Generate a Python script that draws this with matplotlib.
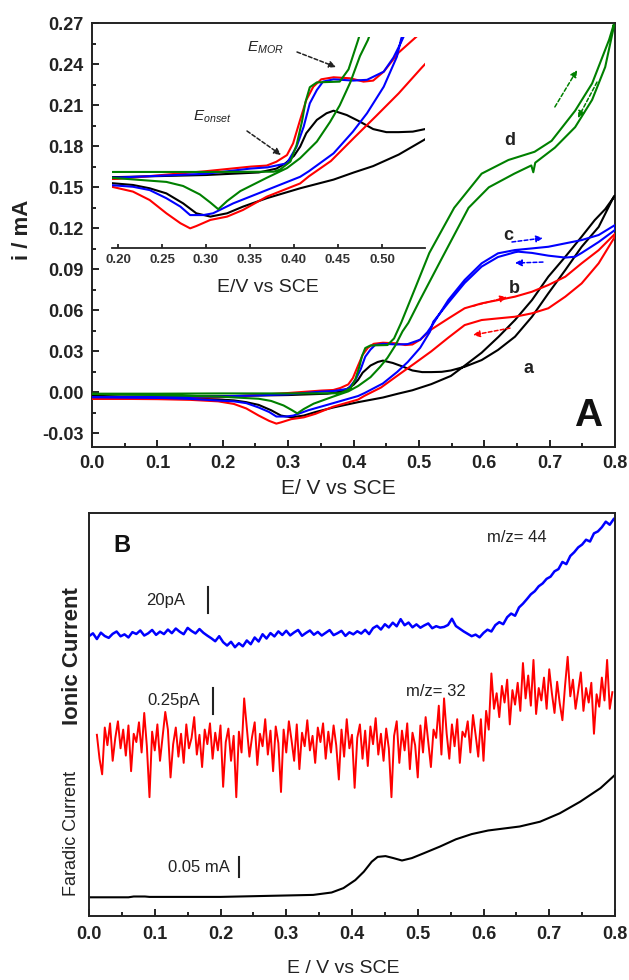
import numpy as np
import matplotlib
matplotlib.use("Agg")
import matplotlib.pyplot as plt
from matplotlib import font_manager

plt.rcParams["font.family"] = ["Liberation Sans", "DejaVu Sans"]
plt.rcParams["mathtext.fontset"] = "custom"
plt.rcParams["mathtext.rm"] = "Liberation Sans"
plt.rcParams["mathtext.it"] = "Liberation Sans:italic"
plt.rcParams["mathtext.bf"] = "Liberation Sans:bold"

_names = {f.name for f in font_manager.fontManager.ttflist}
NARROW = "Liberation Sans Narrow" if "Liberation Sans Narrow" in _names else "Liberation Sans"

# ---------------- Panel A: cyclic voltammograms (E / V vs SCE, i / mA) ----------------
# a: black
a_fwd_E = [0.00, 0.10, 0.20, 0.30, 0.36, 0.38, 0.39, 0.40, 0.407, 0.414, 0.426, 0.437, 0.445,
           0.460, 0.475, 0.490, 0.505, 0.519, 0.535, 0.549, 0.570, 0.596, 0.621, 0.647, 0.673,
           0.698, 0.724, 0.749, 0.775, 0.798]
a_fwd_i = [-0.0030, -0.0030, -0.0028, -0.0020, -0.0010, 0.0005, 0.0025, 0.0055, 0.0091, 0.0144,
           0.0196, 0.0222, 0.0232, 0.0215, 0.0189, 0.0160, 0.0148, 0.0148, 0.0150, 0.0160, 0.0187,
           0.0236, 0.0310, 0.0407, 0.0553, 0.0724, 0.0895, 0.1065, 0.1210, 0.1430]
a_rev_E = [0.800, 0.785, 0.769, 0.749, 0.724, 0.698, 0.673, 0.647, 0.622, 0.596, 0.570, 0.549,
           0.519, 0.490, 0.468, 0.445, 0.407, 0.369, 0.342, 0.324, 0.305, 0.289, 0.274, 0.255,
           0.236, 0.217, 0.193, 0.15, 0.10, 0.05, 0.00]
a_rev_i = [0.1440, 0.1340, 0.1260, 0.1139, 0.0992, 0.0846, 0.0675, 0.0529, 0.0407, 0.0290,
           0.0195, 0.0120, 0.0060, 0.0015, -0.0010, -0.0038, -0.0072, -0.0111, -0.0144, -0.0170,
           -0.0183, -0.0170, -0.0131, -0.0092, -0.0072, -0.0059, -0.0052, -0.0045, -0.0040,
           -0.0035, -0.0030]

# b: red
b_fwd_E = [0.00, 0.10, 0.20, 0.25, 0.30, 0.351, 0.369, 0.380, 0.392, 0.399, 0.407, 0.414, 0.422,
           0.431, 0.445, 0.464, 0.479, 0.490, 0.502, 0.519, 0.545, 0.570, 0.596, 0.621, 0.647,
           0.673, 0.698, 0.724, 0.749, 0.775, 0.800]
b_fwd_i = [-0.0045, -0.0045, -0.0035, -0.0020, -0.0005, 0.0013, 0.0017, 0.0032, 0.0058, 0.0104,
           0.0196, 0.0274, 0.0326, 0.0355, 0.0363, 0.0359, 0.0346, 0.0350, 0.0385, 0.0460, 0.0540,
           0.0615, 0.0651, 0.0675, 0.0700, 0.0736, 0.0785, 0.0846, 0.0944, 0.1040, 0.1160]
b_rev_E = [0.800, 0.775, 0.749, 0.724, 0.698, 0.673, 0.647, 0.621, 0.596, 0.570, 0.545, 0.519,
           0.493, 0.468, 0.442, 0.417, 0.407, 0.369, 0.342, 0.324, 0.305, 0.289, 0.282, 0.271,
           0.255, 0.236, 0.217, 0.193, 0.15, 0.10, 0.05, 0.00]
b_rev_i = [0.1140, 0.0944, 0.0797, 0.0700, 0.0615, 0.0578, 0.0553, 0.0541, 0.0529, 0.0492,
           0.0400, 0.0300, 0.0210, 0.0125, 0.0035, -0.0025, -0.0053, -0.0105, -0.0157, -0.0183,
           -0.0196, -0.0220, -0.0229, -0.0209, -0.0170, -0.0118, -0.0085, -0.0066, -0.0055,
           -0.0050, -0.0048, -0.0045]

# c: blue
c_fwd_E = [0.00, 0.10, 0.20, 0.30, 0.35, 0.37, 0.392, 0.403, 0.411, 0.418, 0.426, 0.433, 0.445,
           0.467, 0.483, 0.502, 0.513, 0.521, 0.545, 0.570, 0.596, 0.621, 0.647, 0.673, 0.698,
           0.724, 0.749, 0.775, 0.800]
c_fwd_i = [-0.0035, -0.0035, -0.0030, -0.0015, 0.0005, 0.0010, 0.0026, 0.0091, 0.0169, 0.0261,
           0.0313, 0.0346, 0.0355, 0.0350, 0.0353, 0.0385, 0.0440, 0.0495, 0.0675, 0.0822, 0.0944,
           0.1017, 0.1041, 0.1053, 0.1065, 0.1090, 0.1114, 0.1151, 0.1224]
c_rev_E = [0.800, 0.775, 0.749, 0.739, 0.724, 0.698, 0.673, 0.652, 0.647, 0.621, 0.596, 0.570,
           0.545, 0.522, 0.517, 0.502, 0.483, 0.467, 0.445, 0.417, 0.407, 0.369, 0.331, 0.308,
           0.297, 0.282, 0.271, 0.255, 0.236, 0.217, 0.193, 0.15, 0.10, 0.05, 0.00]
c_rev_i = [0.1188, 0.1100, 0.1020, 0.0992, 0.0986, 0.1000, 0.1020, 0.1029, 0.1025, 0.0990,
           0.0920, 0.0800, 0.0655, 0.0516, 0.0444, 0.0326, 0.0222, 0.0150, 0.0065, -0.0005,
           -0.0027, -0.0079, -0.0131, -0.0170, -0.0177, -0.0177, -0.0144, -0.0111, -0.0079,
           -0.0066, -0.0060, -0.0048, -0.0040, -0.0038, -0.0035]

# d: green
d_fwd_E = [0.00, 0.10, 0.20, 0.30, 0.377, 0.384, 0.396, 0.403, 0.409, 0.413, 0.418, 0.426,
           0.452, 0.462, 0.473, 0.495, 0.516, 0.554, 0.596, 0.637, 0.677, 0.703, 0.739, 0.765,
           0.791, 0.798]
d_fwd_i = [-0.0010, -0.0010, -0.0008, -0.0008, -0.0007, 0.0001, 0.0033, 0.0098, 0.0188, 0.0265,
           0.0324, 0.0343, 0.0346, 0.0394, 0.0510, 0.0770, 0.1020, 0.1350, 0.1600, 0.1700, 0.1760,
           0.1840, 0.2060, 0.2260, 0.2580, 0.2690]
d_rev_E = [0.798, 0.785, 0.765, 0.739, 0.708, 0.678, 0.675, 0.672, 0.646, 0.607, 0.576, 0.534,
           0.500, 0.484, 0.475, 0.464, 0.452, 0.441, 0.426, 0.407, 0.392, 0.369, 0.339, 0.324,
           0.314, 0.305, 0.293, 0.274, 0.255, 0.193, 0.10, 0.00]
d_rev_i = [0.2670, 0.2380, 0.2140, 0.1940, 0.1790, 0.1680, 0.1610, 0.1660, 0.1600, 0.1500,
           0.1350, 0.0970, 0.0660, 0.0509, 0.0446, 0.0343, 0.0253, 0.0188, 0.0111, 0.0046, 0.0007,
           -0.0031, -0.0083, -0.0122, -0.0154, -0.0128, -0.0096, -0.0063, -0.0047, -0.0031,
           -0.0020, -0.0012]

cv_curves = [
    ("k", a_fwd_E, a_fwd_i, a_rev_E, a_rev_i),
    ("#ff0000", b_fwd_E, b_fwd_i, b_rev_E, b_rev_i),
    ("#0000ff", c_fwd_E, c_fwd_i, c_rev_E, c_rev_i),
    ("#008000", d_fwd_E, d_fwd_i, d_rev_E, d_rev_i),
]
curve_labels = ["a", "b", "c", "d"]
a_ticks_x = [0.0, 0.1, 0.2, 0.3, 0.4, 0.5, 0.6, 0.7, 0.8]
a_ticks_y = [-0.03, 0.00, 0.03, 0.06, 0.09, 0.12, 0.15, 0.18, 0.21, 0.24, 0.27]
inset_ticks_x = [0.20, 0.25, 0.30, 0.35, 0.40, 0.45, 0.50]

# ---------------- Panel B: DEMS signals ----------------
# m/z = 44 ionic current (pA, relative), sampled every 6 mV from 0 V
mz44_pA = [0.4, 2.6, -1.8, 3.1, 0.5, -0.9, 2.2, 4.0, 0.3, 1.8,
           -0.6, 3.5, 2.1, 4.8, 0.9, 2.6, 5.2, 1.4, 3.9, 2.0,
           5.5, 2.7, 6.3, 3.8, 1.9, 6.8, 4.4, 2.5, 5.9, 3.0,
           0.8, -1.2, -3.5, 0.4, -4.2, -6.8, -3.9, -8.1, -5.0, -7.4,
           -2.9, -5.8, -0.6, -3.7, 1.9, -1.4, 2.8, 0.2, 4.1, 1.3,
           4.6, 1.0, 3.3, 5.2, 0.7, 2.9, 4.8, 1.5, 3.7, 0.9,
           3.0, 5.1, 1.2, 2.7, 4.5, 0.6, 3.4, 1.8, 4.2, 2.4,
           5.3, 2.0, 6.6, 8.4, 5.5, 9.6, 7.1, 10.8, 8.0, 13.5,
           8.8, 10.9, 7.2, 9.5, 6.9, 8.7, 10.2, 6.5, 8.1, 7.0,
           7.5, 9.0, 13.8, 8.2, 6.1, 4.0, 2.2, 0.4, 1.6, -0.5,
           2.9, 5.4, 4.0, 8.9, 11.2, 9.6, 15.0, 17.8, 16.1, 22.5,
           25.4, 28.9, 32.6, 35.0, 38.8, 41.0, 44.5, 46.2, 50.3, 52.0,
           57.5, 55.8, 62.1, 65.0, 68.7, 70.9, 74.6, 73.2, 79.5, 81.0,
           84.2, 88.5, 86.1, 90.5]
mz44_E0, mz44_dE = 0.0, 0.006

# m/z = 32 ionic current (pA, relative), sampled every 4 mV from 12 mV
mz32_pA = [0.05, -0.18, -0.33, 0.12, -0.05, 0.16, -0.20, 0.02, 0.18, -0.08,
           0.10, -0.15, 0.14, -0.30, 0.06, -0.02, 0.17, -0.12, 0.26, -0.06,
           -0.55, 0.08, -0.10, 0.15, -0.20, 0.04, 0.27, 0.10, -0.36, -0.04,
           0.12, -0.16, 0.06, -0.22, 0.15, -0.08, 0.02, 0.22, -0.14, 0.05,
           -0.26, 0.10, -0.04, 0.16, -0.18, 0.07, -0.10, 0.14, -0.45, -0.02,
           0.11, -0.20, 0.04, -0.55, 0.08, -0.12, 0.40, 0.12, -0.16, 0.03,
           0.17, -0.24, 0.06, -0.06, 0.20, -0.14, 0.09, -0.30, 0.13, -0.03,
           -0.50, 0.10, -0.12, 0.18, 0.00, -0.20, 0.15, -0.28, 0.07, -0.06,
           0.19, -0.10, 0.04, -0.22, 0.12, -0.02, 0.16, -0.18, 0.08, -0.12,
           0.14, -0.05, -0.38, 0.10, -0.16, 0.20, -0.08, 0.05, -0.46, 0.02,
           0.15, -0.18, 0.09, -0.25, 0.13, -0.04, 0.21, -0.14, 0.06, -0.20,
           0.11, -0.08, -0.55, 0.04, 0.18, -0.22, 0.09, -0.10, 0.16, -0.28,
           0.07, -0.05, -0.36, 0.14, -0.12, 0.22, -0.02, -0.26, 0.10, 0.02,
           0.33, -0.14, 0.40, 0.06, -0.18, 0.15, -0.06, 0.20, -0.22, 0.08,
           0.03, 0.18, -0.12, 0.24, 0.05, -0.16, 0.20, -0.20, 0.28, 0.10,
           0.64, 0.30, 0.45, 0.22, 0.52, 0.36, 0.58, 0.15, 0.48, 0.34,
           0.55, 0.28, 0.74, 0.40, 0.62, 0.33, 0.77, 0.25, 0.50, 0.38,
           0.60, 0.30, 0.68, 0.45, 0.26, 0.56, 0.35, 0.19, 0.52, 0.80,
           0.42, 0.58, 0.30, 0.47, 0.65, 0.28, 0.50, 0.36, 0.55, 0.06,
           0.44, 0.32, 0.60, 0.38, 0.77, 0.30, 0.46]
mz32_E0, mz32_dE = 0.012, 0.004

# Faradaic current (mA, relative)
far_E = [0.00, 0.060, 0.068, 0.085, 0.092, 0.20, 0.341, 0.369, 0.387, 0.405, 0.418, 0.430, 0.439,
         0.451, 0.463, 0.476, 0.491, 0.509, 0.534, 0.558, 0.582, 0.607, 0.631, 0.655, 0.686,
         0.716, 0.747, 0.778, 0.800]
far_mA = [0.000, 0.000, 0.002, 0.002, 0.001, 0.001, 0.006, 0.012, 0.023, 0.043, 0.064, 0.089,
          0.101, 0.103, 0.098, 0.092, 0.098, 0.110, 0.127, 0.145, 0.158, 0.167, 0.172, 0.177,
          0.189, 0.210, 0.239, 0.273, 0.306]
b_ticks_x = [0.0, 0.1, 0.2, 0.3, 0.4, 0.5, 0.6, 0.7, 0.8]

# ---------------- figure ----------------
W, H = 629, 980
fig = plt.figure(figsize=(W / 100, H / 100), dpi=100)
TXT = "#222222"


def fx(px):
    return px / W


def fy(py):
    return 1 - py / H


def bold_ticklabels(ax):
    for lab in ax.get_xticklabels() + ax.get_yticklabels():
        lab.set_fontweight("bold")


# ---- Panel A ----
axA = fig.add_axes([fx(92), fy(447), fx(615) - fx(92), fy(23.3) - fy(447)])
for col, fE, fi, rE, ri in cv_curves:
    axA.plot(np.r_[fE, rE], np.r_[fi, ri], color=col, lw=1.5, zorder=3)
axA.set_xlim(0, 0.8)
axA.set_ylim(-0.04, 0.27)
axA.set_xticks(a_ticks_x)
axA.set_xticklabels([f"{v:.1f}" for v in a_ticks_x])
axA.set_xticks(np.arange(0.05, 0.8, 0.1), minor=True)
axA.set_yticks(a_ticks_y)
axA.set_yticklabels([f"{v:.2f}" for v in a_ticks_y])
axA.set_yticks(np.arange(-0.015, 0.27, 0.03), minor=True)
axA.tick_params(which="both", direction="in", top=False, right=False, width=1.2,
                labelsize=13, labelcolor=TXT, pad=6)
axA.tick_params(which="major", length=5)
axA.tick_params(which="minor", length=3)
bold_ticklabels(axA)
for s in axA.spines.values():
    s.set_linewidth(1.4)
    s.set_color("#222222")

# curve letters
label_pos = {"a": (0.668, 0.0178), "b": (0.6465, 0.0763), "c": (0.637, 0.1151), "d": (0.639, 0.1846)}
for lab in curve_labels:
    axA.text(*label_pos[lab], lab, fontsize=13, fontweight="bold", color=TXT,
             ha="center", va="center")
axA.text(0.948, 0.073, "A", transform=axA.transAxes, fontsize=28, fontweight="bold",
         color="#111111", ha="center", va="center")


def scan_arrow(ax, start, end, color):
    ax.annotate("", xy=end, xytext=start,
                arrowprops=dict(arrowstyle="-|>", color=color, lw=1.1, ls=(0, (2.5, 1.5)),
                                mutation_scale=10, shrinkA=0, shrinkB=0), zorder=4)


scan_arrow(axA, (0.708, 0.2088), (0.742, 0.2358), "#008000")
scan_arrow(axA, (0.7725, 0.2270), (0.7434, 0.2007), "#008000")
scan_arrow(axA, (0.6424, 0.1100), (0.6898, 0.1129), "#0000ff")
scan_arrow(axA, (0.6898, 0.0953), (0.6470, 0.0946), "#0000ff")
scan_arrow(axA, (0.5828, 0.0631), (0.6348, 0.0697), "#ff0000")
scan_arrow(axA, (0.6394, 0.0470), (0.5828, 0.0419), "#ff0000")

# onset / peak markers of the inset
axA.text(0.237, 0.2519, r"$E_{MOR}$", fontsize=11, color=TXT, ha="left", va="center")
scan_arrow(axA, (0.3136, 0.2490), (0.3732, 0.2380), "#222222")
axA.text(0.1545, 0.2014, r"$E_{onset}$", fontsize=11, color=TXT, ha="left", va="center")
scan_arrow(axA, (0.2371, 0.1912), (0.2891, 0.1737), "#222222")

# ---- inset: zoom of the onset region ----
axI = fig.add_axes([fx(112), fy(248), fx(425) - fx(112), fy(36.7) - fy(248)])
axI.patch.set_alpha(0)
for col, fE, fi, rE, ri in cv_curves:
    axI.plot(np.r_[fE, rE], np.r_[fi, ri], color=col, lw=1.5)
axI.set_xlim(0.1932, 0.5489)
axI.set_ylim(-0.0306, 0.0522)
for side in ("left", "right", "top"):
    axI.spines[side].set_visible(False)
axI.spines["bottom"].set_linewidth(1.3)
axI.spines["bottom"].set_color("#222222")
axI.set_yticks([])
axI.set_xticks(inset_ticks_x)
axI.set_xticklabels([f"{v:.2f}" for v in inset_ticks_x])
axI.tick_params(axis="x", direction="in", length=3, width=1.1, labelsize=9.5,
                labelcolor="#333333", pad=4)
bold_ticklabels(axI)

fig.text(fx(268), fy(288), "E/V vs SCE", fontsize=14, color=TXT, ha="center", va="center")
fig.text(fx(338), fy(488), "E/ V vs SCE", fontsize=15, color=TXT, ha="center", va="center")
fig.text(fx(22), fy(230), "i / mA", fontsize=16, fontweight="bold", color=TXT,
         rotation=90, ha="center", va="center")

# ---- Panel B ----
axB = fig.add_axes([fx(89), fy(916), fx(615) - fx(89), fy(513) - fy(916)])
axB.set_xlim(0, 0.8)
axB.set_ylim(0, 403)

far_off, far_scale = 18.7, 400.0       # per mA
mz44_off, mz44_scale = 279.3, 1.3      # per pA
mz32_off, mz32_scale = 176.0, 104.0    # per pA

E44 = mz44_E0 + mz44_dE * np.arange(len(mz44_pA))
E32 = mz32_E0 + mz32_dE * np.arange(len(mz32_pA))
axB.plot(E44, mz44_off + mz44_scale * np.asarray(mz44_pA), color="#0000ff", lw=1.8)
axB.plot(E32, mz32_off + mz32_scale * np.asarray(mz32_pA), color="#ff0000", lw=1.4)
axB.plot(far_E, far_off + far_scale * np.asarray(far_mA), color="k", lw=1.5)

# scale bars
bars = [(0.181, 303.0, 20.0 * mz44_scale, "20pA", 0.146),
        (0.1886, 202.0, 0.25 * mz32_scale, "0.25pA", 0.169),
        (0.2281, 39.0, 0.05 * far_scale, "0.05 mA", 0.2145)]
for xb, y0, ln, txt, xt in bars:
    axB.plot([xb, xb], [y0, y0 + ln], color="#222222", lw=1.5)
    axB.text(xt, y0 + ln / 2, txt, fontsize=12, color=TXT, ha="right", va="center")

axB.text(0.651, 379, "m/z= 44", fontsize=12, color=TXT, ha="center", va="center")
axB.text(0.528, 224, "m/z= 32", fontsize=12, color=TXT, ha="center", va="center")
axB.text(0.050, 371, "B", fontsize=17, fontweight="bold", color="#111111",
         ha="center", va="center")

axB.set_yticks([])
axB.set_xticks(b_ticks_x)
axB.set_xticklabels([f"{v:.1f}" for v in b_ticks_x])
axB.set_xticks(np.arange(0.05, 0.8, 0.1), minor=True)
axB.tick_params(which="both", direction="in", top=False, width=1.2, labelsize=13,
                labelcolor=TXT, pad=7)
axB.tick_params(which="major", length=5)
axB.tick_params(which="minor", length=3)
bold_ticklabels(axB)
for s in axB.spines.values():
    s.set_linewidth(1.4)
    s.set_color("#222222")

fig.text(fx(72), fy(656), "Ionic Current", fontsize=16, fontweight="bold", color=TXT,
         rotation=90, ha="center", va="center")
fig.text(fx(72), fy(833), "Faradic Current", fontsize=13, family=NARROW, color=TXT,
         rotation=90, ha="center", va="center")
fig.text(fx(343), fy(968), "E / V vs SCE", fontsize=14, color=TXT, ha="center", va="center")

fig.savefig("out.png", dpi=100)
